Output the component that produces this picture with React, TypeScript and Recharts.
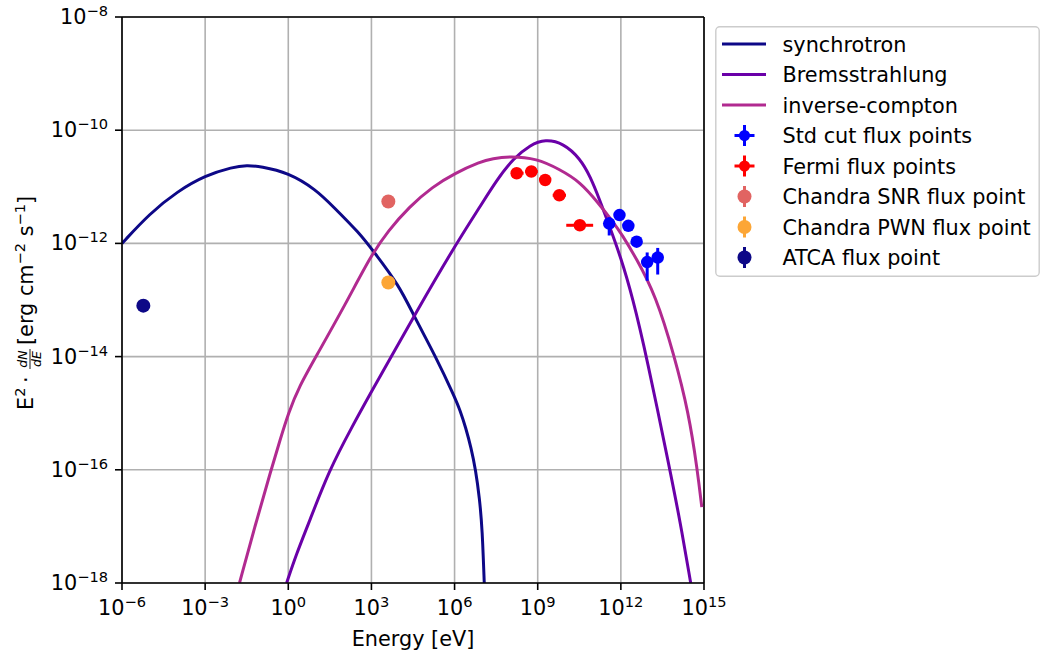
import {
  ComposedChart,
  Line,
  Scatter,
  XAxis,
  YAxis,
  CartesianGrid,
  ErrorBar,
  ReferenceLine,
  Legend,
  Label,
} from 'recharts'

const FONT = '"DejaVu Sans", sans-serif'
const FS = 20.8
const SUP = 14.6

const SYNC_COLOR = '#0d0887'
const BREMS_COLOR = '#6a00a8'
const IC_COLOR = '#b12a90'
const STD_COLOR = '#0000ff'
const FERMI_COLOR = '#ff0000'
const SNR_COLOR = '#e16462'
const PWN_COLOR = '#fca636'
const ATCA_COLOR = '#0d0887'

// all values are log10: energy in eV, E^2 dN/dE in erg cm^-2 s^-1
const SYNC_LOGE = [-6, -5, -4, -3, -2, -1.5, -1, 0, 1, 1.62, 2.57, 3.04, 4.0, 4.54, 5.32, 6.0, 6.2, 6.4, 6.6, 6.76, 6.9, 7.0, 7.07, 7.12]
const SYNC_LOGF = [-12.0, -11.47, -11.08, -10.8, -10.65, -10.62, -10.64, -10.75, -11.05, -11.35, -11.82, -12.12, -12.74, -13.29, -14.0, -14.71, -14.95, -15.25, -15.62, -16.0, -16.5, -17.05, -18.0, -18.6]

const BREMS_LOGE = [-0.06, 0.3, 0.7, 1.48, 2.3, 3.0, 3.76, 4.54, 6.0, 6.92, 7.52, 8.12, 8.73, 9.27, 9.93, 10.53, 10.9, 11.25, 11.56, 12.0, 12.42, 12.93, 13.77, 14.13, 14.52]
const BREMS_LOGF = [-18.0, -17.48, -16.99, -16.0, -15.24, -14.62, -13.96, -13.28, -12.05, -11.35, -10.88, -10.5, -10.26, -10.16, -10.23, -10.5, -10.82, -11.25, -11.66, -12.25, -12.95, -14.0, -16.0, -16.89, -18.0]

const IC_LOGE = [-1.76, -1.2, -0.62, -0.3, 0.0, 0.4, 1.0, 2.08, 3.0, 3.6, 4.37, 5.2, 6.01, 6.92, 7.37, 8.0, 8.97, 9.78, 10.53, 11.21, 11.69, 12.05, 12.54, 13.26, 13.92, 14.45, 14.76, 14.92]
const IC_LOGF = [-18.0, -16.99, -16.0, -15.48, -15.0, -14.52, -14.0, -13.06, -12.2, -11.78, -11.35, -11.0, -10.76, -10.56, -10.5, -10.46, -10.5, -10.69, -10.91, -11.3, -11.6, -11.85, -12.25, -12.92, -13.97, -15.0, -16.0, -16.66]

const STD_LOGE = [11.58, 11.95, 12.27, 12.57, 12.95, 13.33]
const STD_LOGF = [-11.65, -11.5, -11.69, -11.97, -12.33, -12.25]
const STD_YLO = [-11.86, -11.56, -11.75, -12.03, -12.66, -12.55]
const STD_YHI = [-11.54, -11.45, -11.63, -11.92, -12.16, -12.08]

const FERMI_LOGE = [8.24, 8.77, 9.27, 9.78, 10.52]
const FERMI_LOGF = [-10.76, -10.73, -10.88, -11.15, -11.68]
const FERMI_XLO = [8.07, 8.55, 9.09, 9.54, 10.03]
const FERMI_XHI = [8.49, 9.0, 9.45, 10.02, 11.0]
const FERMI_YERR = [0.06, 0.04, 0.05, 0.05, 0.05]

const SNR_LOGE = [3.61]
const SNR_LOGF = [-11.26]
const PWN_LOGE = [3.61]
const PWN_LOGF = [-12.69]
const ATCA_LOGE = [-5.23]
const ATCA_LOGF = [-13.1]

const X_TICKS = [-6, -3, 0, 3, 6, 9, 12, 15]
const Y_TICKS = [-18, -16, -14, -12, -10, -8]

const pts = (xs: number[], ys: number[]) => xs.map((x, i) => ({ x, y: ys[i] }))

const syncData = pts(SYNC_LOGE, SYNC_LOGF)
const bremsData = pts(BREMS_LOGE, BREMS_LOGF)
const icData = pts(IC_LOGE, IC_LOGF)
const stdData = STD_LOGE.map((x, i) => ({
  x,
  y: STD_LOGF[i],
  ey: [STD_LOGF[i] - STD_YLO[i], STD_YHI[i] - STD_LOGF[i]],
}))
const fermiData = FERMI_LOGE.map((x, i) => ({
  x,
  y: FERMI_LOGF[i],
  ex: [x - FERMI_XLO[i], FERMI_XHI[i] - x],
  ey: [FERMI_YERR[i], FERMI_YERR[i]],
}))

const fmt = (v: number) => (v < 0 ? '\u2212' + Math.abs(v) : String(v))

const XTick = (props: any) => {
  const { x, y, payload } = props
  return (
    <text x={x} y={y + 18} textAnchor="middle" fontFamily={FONT} fontSize={FS} fill="#000">
      <tspan>10</tspan>
      <tspan fontSize={SUP} dy={-8}>{fmt(payload.value)}</tspan>
    </text>
  )
}

const YTick = (props: any) => {
  const { x, y, payload } = props
  return (
    <text x={x} y={y + 7} textAnchor="end" fontFamily={FONT} fontSize={FS} fill="#000">
      <tspan>10</tspan>
      <tspan fontSize={SUP} dy={-8}>{fmt(payload.value)}</tspan>
    </text>
  )
}

const XLabel = () => (
  <text x={413} y={646} textAnchor="middle" fontFamily={FONT} fontSize={FS} fill="#000">
    Energy [eV]
  </text>
)

const YLabel = () => (
  <g transform="translate(33,299) rotate(-90)" fontFamily={FONT} fill="#000">
    <text x={-111} y={0} fontSize={FS}>
      E<tspan fontSize={SUP} dy={-8}>2</tspan>
    </text>
    <text x={-84} y={0} fontSize={FS}>·</text>
    <text x={-60} y={-6} fontSize={12.5} fontStyle="italic" textAnchor="middle">dN</text>
    <line x1={-70} x2={-50} y1={-3} y2={-3} stroke="#000" strokeWidth={0.9} />
    <text x={-60} y={8} fontSize={12.5} fontStyle="italic" textAnchor="middle">dE</text>
    <text x={-46} y={0} fontSize={FS}>
      [erg cm<tspan fontSize={SUP} dy={-8}>{'\u2212'}2</tspan>
      <tspan dy={8}> s</tspan>
      <tspan fontSize={SUP} dy={-8}>{'\u2212'}1</tspan>
      <tspan dy={8}>]</tspan>
    </text>
  </g>
)

const LEGEND_ROWS = [
  { label: 'synchrotron', color: SYNC_COLOR, kind: 'line' },
  { label: 'Bremsstrahlung', color: BREMS_COLOR, kind: 'line' },
  { label: 'inverse-compton', color: IC_COLOR, kind: 'line' },
  { label: 'Std cut flux points', color: STD_COLOR, kind: 'cross' },
  { label: 'Fermi flux points', color: FERMI_COLOR, kind: 'cross' },
  { label: 'Chandra SNR flux point', color: SNR_COLOR, kind: 'dot' },
  { label: 'Chandra PWN flux point', color: PWN_COLOR, kind: 'dot' },
  { label: 'ATCA flux point', color: ATCA_COLOR, kind: 'dot' },
]

const LegendBox = () => (
  <svg width={325} height={251} style={{ display: 'block' }}>
    <rect x={0.8} y={0.8} width={323.4} height={249.4} rx={4} fill="#fff" fillOpacity={0.8} stroke="#cccccc" strokeWidth={1.4} />
    {LEGEND_ROWS.map((r, i) => {
      const cy = 18 + 30.5 * i
      return (
        <g key={r.label}>
          {r.kind === 'line' && <line x1={7} x2={51} y1={cy} y2={cy} stroke={r.color} strokeWidth={3} />}
          {r.kind === 'cross' && (
            <g stroke={r.color} strokeWidth={3}>
              <line x1={19.5} x2={39.5} y1={cy} y2={cy} />
              <line x1={29.5} x2={29.5} y1={cy - 10.5} y2={cy + 10.5} />
              <circle cx={29.5} cy={cy} r={5.5} fill={r.color} stroke="none" />
            </g>
          )}
          {r.kind === 'dot' && (
            <g>
              <line x1={29.5} x2={29.5} y1={cy - 10.5} y2={cy + 10.5} stroke={r.color} strokeWidth={3} />
              <circle cx={29.5} cy={cy} r={7} fill={r.color} />
            </g>
          )}
          <text x={67.5} y={cy + 7.5} fontFamily={FONT} fontSize={FS} fill="#000">
            {r.label}
          </text>
        </g>
      )
    })}
  </svg>
)

const dot = (r: number, color: string) => (props: any) => (
  <circle cx={props.cx} cy={props.cy} r={r} fill={color} />
)

export default function App() {
  return (
    <div style={{ width: 1041, height: 655, background: '#fff' }}>
      <style>{'body{margin:0}'}</style>
      <ComposedChart width={1041} height={655} margin={{ top: 17, right: 337, bottom: 0, left: 0 }}>
        <CartesianGrid stroke="#b0b0b0" strokeWidth={1.6} />
        <XAxis
          type="number"
          dataKey="x"
          domain={[-6, 15]}
          ticks={X_TICKS}
          interval={0}
          allowDataOverflow
          height={72}
          tickSize={7}
          tickMargin={7}
          axisLine={{ stroke: '#000', strokeWidth: 1.6 }}
          tickLine={{ stroke: '#000', strokeWidth: 1.6 }}
          tick={XTick}
        >
          <Label content={XLabel} />
        </XAxis>
        <YAxis
          type="number"
          dataKey="y"
          domain={[-18, -8]}
          ticks={Y_TICKS}
          interval={0}
          allowDataOverflow
          width={122}
          tickSize={7}
          tickMargin={7}
          axisLine={{ stroke: '#000', strokeWidth: 1.6 }}
          tickLine={{ stroke: '#000', strokeWidth: 1.6 }}
          tick={YTick}
        >
          <Label content={YLabel} />
        </YAxis>
        <ReferenceLine y={-8} stroke="#000" strokeWidth={1.6} />
        <ReferenceLine x={15} stroke="#000" strokeWidth={1.6} />
        <Line data={syncData} dataKey="y" type="basis" stroke={SYNC_COLOR} strokeWidth={3} dot={false} activeDot={false} isAnimationActive={false} />
        <Line data={bremsData} dataKey="y" type="basis" stroke={BREMS_COLOR} strokeWidth={3} dot={false} activeDot={false} isAnimationActive={false} />
        <Line data={icData} dataKey="y" type="basis" stroke={IC_COLOR} strokeWidth={3} dot={false} activeDot={false} isAnimationActive={false} />
        <Scatter data={stdData} dataKey="y" shape={dot(6.25, STD_COLOR)} isAnimationActive={false}>
          <ErrorBar dataKey="ey" direction="y" width={0} stroke={STD_COLOR} strokeWidth={3} />
        </Scatter>
        <Scatter data={fermiData} dataKey="y" shape={dot(6.25, FERMI_COLOR)} isAnimationActive={false}>
          <ErrorBar dataKey="ex" direction="x" width={0} stroke={FERMI_COLOR} strokeWidth={3} />
          <ErrorBar dataKey="ey" direction="y" width={0} stroke={FERMI_COLOR} strokeWidth={3} />
        </Scatter>
        <Scatter data={pts(SNR_LOGE, SNR_LOGF)} dataKey="y" shape={dot(7, SNR_COLOR)} isAnimationActive={false} />
        <Scatter data={pts(PWN_LOGE, PWN_LOGF)} dataKey="y" shape={dot(7, PWN_COLOR)} isAnimationActive={false} />
        <Scatter data={pts(ATCA_LOGE, ATCA_LOGF)} dataKey="y" shape={dot(7, ATCA_COLOR)} isAnimationActive={false} />
        <Legend
          content={LegendBox}
          layout="horizontal"
          verticalAlign="middle"
          align="center"
          wrapperStyle={{ left: 715, top: 26, width: 325, height: 251 }}
        />
      </ComposedChart>
    </div>
  )
}
